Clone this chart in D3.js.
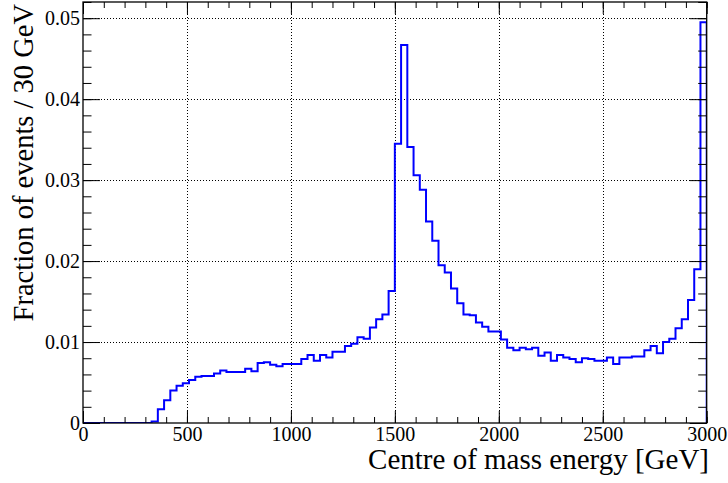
<!DOCTYPE html>
<html>
<head>
<meta charset="utf-8">
<script src="https://cdn.jsdelivr.net/npm/d3@7"></script>
<style>
  html, body { margin: 0; padding: 0; background: #fff; }
  svg { display: block; }
</style>
</head>
<body>
<svg id="chart" width="728" height="483"></svg>
<script>
// ---- data ----
const xMin = 0;
const binWidth = 30; // GeV
const fraction = [
  0, 0, 0, 0, 0, 0, 0, 0, 0, 0,
  0, 0.0002, 0.0017, 0.0028, 0.0040, 0.0046, 0.0049, 0.0053, 0.0057, 0.0058,
  0.0058, 0.0061, 0.0065, 0.0063, 0.0063, 0.0063, 0.0067, 0.0064, 0.0074, 0.0075,
  0.0072, 0.0070, 0.0073, 0.0073, 0.0073, 0.0079, 0.0084, 0.0077, 0.0084, 0.0081,
  0.0088, 0.0088, 0.0095, 0.0098, 0.0106, 0.0104, 0.0118, 0.0128, 0.0134, 0.0163,
  0.0345, 0.0467, 0.0341, 0.0306, 0.0288, 0.0249, 0.0225, 0.0195, 0.0186, 0.0166,
  0.0148, 0.0134, 0.0133, 0.0124, 0.0119, 0.0113, 0.0113, 0.0103, 0.0093, 0.0090,
  0.0093, 0.0091, 0.0093, 0.0083, 0.0087, 0.0077, 0.0084, 0.0081, 0.0079, 0.0075,
  0.0080, 0.0079, 0.0077, 0.0077, 0.0081, 0.0073, 0.0081, 0.0081, 0.0082, 0.0082,
  0.0090, 0.0095, 0.0086, 0.0100, 0.0104, 0.0117, 0.0128, 0.0152, 0.0190, 0.0495
];
const xMajorTicks = [0, 500, 1000, 1500, 2000, 2500, 3000];
const xTickLabels = ["0", "500", "1000", "1500", "2000", "2500", "3000"];
const xMinorStep = 100;
const yMajorTicks = [0, 0.01, 0.02, 0.03, 0.04, 0.05];
const yTickLabels = ["0", "0.01", "0.02", "0.03", "0.04", "0.05"];
const yMinorStep = 0.002;
const xDomain = [0, 3000];
const yDomain = [0, 0.052];
const xTitle = "Centre of mass energy [GeV]";
const yTitle = "Fraction of events / 30 GeV";

// ---- layout ----
const FONT = "'Liberation Serif', 'Times New Roman', 'DejaVu Serif', serif";
const L = 83, R = 706.7, T = 2, B = 423;
const svg = d3.select("#chart");
const x = d3.scaleLinear().domain(xDomain).range([L, R]);
const y = d3.scaleLinear().domain(yDomain).range([B, T]);

const xMinor = d3.range(xDomain[0], xDomain[1] + 1e-9, xMinorStep);
const yMinor = d3.range(yDomain[0], yDomain[1] + 1e-9, yMinorStep);

// grid
const grid = svg.append("g").attr("stroke", "#000").attr("stroke-width", 1)
  .attr("stroke-dasharray", "1,2");
grid.selectAll("line.gx").data(xMajorTicks.filter(v => v > xDomain[0] && v < xDomain[1]))
  .join("line").attr("x1", d => Math.round(x(d)) + 0.5).attr("x2", d => Math.round(x(d)) + 0.5)
  .attr("y1", T).attr("y2", B);
grid.selectAll("line.gy").data(yMajorTicks.filter(v => v > yDomain[0] && v < yDomain[1]))
  .join("line").attr("class", "gy").attr("x1", L).attr("x2", R)
  .attr("y1", d => Math.round(y(d)) + 0.5).attr("y2", d => Math.round(y(d)) + 0.5);

// histogram
const defs = svg.append("defs");
defs.append("clipPath").attr("id", "clip").append("rect")
  .attr("x", L).attr("y", T).attr("width", R - L).attr("height", B - T);
const pts = [[xMin, 0]];
fraction.forEach((v, i) => {
  pts.push([xMin + i * binWidth, v]);
  pts.push([xMin + (i + 1) * binWidth, v]);
});
pts.push([xMin + fraction.length * binWidth, 0]);
svg.append("path")
  .attr("clip-path", "url(#clip)")
  .attr("d", d3.line().x(d => x(d[0])).y(d => y(d[1]))(pts))
  .attr("fill", "none").attr("stroke", "#0000ff").attr("stroke-width", 2)
  .attr("stroke-linejoin", "miter");

// axes with inward ticks (ROOT style)
const xAxisB = d3.axisBottom(x).tickValues(xMajorTicks).tickFormat((d, i) => xTickLabels[i])
  .tickSizeInner(-12).tickSizeOuter(0).tickPadding(4);
const gxb = svg.append("g").attr("transform", `translate(0,${B})`).call(xAxisB);
gxb.selectAll(".tick text").style("font-family", FONT).style("font-size", "20px").attr("fill", "#000");
svg.append("g").attr("transform", `translate(0,${B})`)
  .call(d3.axisBottom(x).tickValues(xMinor).tickFormat("").tickSizeInner(-6).tickSizeOuter(0));
// top
svg.append("g").attr("transform", `translate(0,${T})`)
  .call(d3.axisTop(x).tickValues(xMajorTicks).tickFormat("").tickSizeInner(-12).tickSizeOuter(0));
svg.append("g").attr("transform", `translate(0,${T})`)
  .call(d3.axisTop(x).tickValues(xMinor).tickFormat("").tickSizeInner(-6).tickSizeOuter(0));

const yAxisL = d3.axisLeft(y).tickValues(yMajorTicks).tickFormat((d, i) => yTickLabels[i])
  .tickSizeInner(-17).tickSizeOuter(0).tickPadding(3);
const gyl = svg.append("g").attr("transform", `translate(${L},0)`).call(yAxisL);
gyl.selectAll(".tick text").style("font-family", FONT).style("font-size", "20px").attr("fill", "#000");
svg.append("g").attr("transform", `translate(${L},0)`)
  .call(d3.axisLeft(y).tickValues(yMinor).tickFormat("").tickSizeInner(-8.5).tickSizeOuter(0));
svg.append("g").attr("transform", `translate(${R},0)`)
  .call(d3.axisRight(y).tickValues(yMajorTicks).tickFormat("").tickSizeInner(-17).tickSizeOuter(0));
svg.append("g").attr("transform", `translate(${R},0)`)
  .call(d3.axisRight(y).tickValues(yMinor).tickFormat("").tickSizeInner(-8.5).tickSizeOuter(0));

svg.selectAll(".domain").remove();
svg.selectAll(".tick line").attr("stroke", "#000").attr("stroke-width", 1);

// frame
svg.append("rect").attr("x", L).attr("y", T).attr("width", R - L).attr("height", B - T)
  .attr("fill", "none").attr("stroke", "#000").attr("stroke-width", 1.3);

// titles
svg.append("text").attr("x", 709).attr("y", 469).attr("text-anchor", "end")
  .style("font-family", FONT).style("font-size", "29px").attr("fill", "#000").text(xTitle);
svg.append("text").attr("transform", "translate(33,4) rotate(-90)")
  .attr("text-anchor", "end").style("font-family", FONT).style("font-size", "28.5px")
  .attr("fill", "#000").text(yTitle);
</script>
</body>
</html>
